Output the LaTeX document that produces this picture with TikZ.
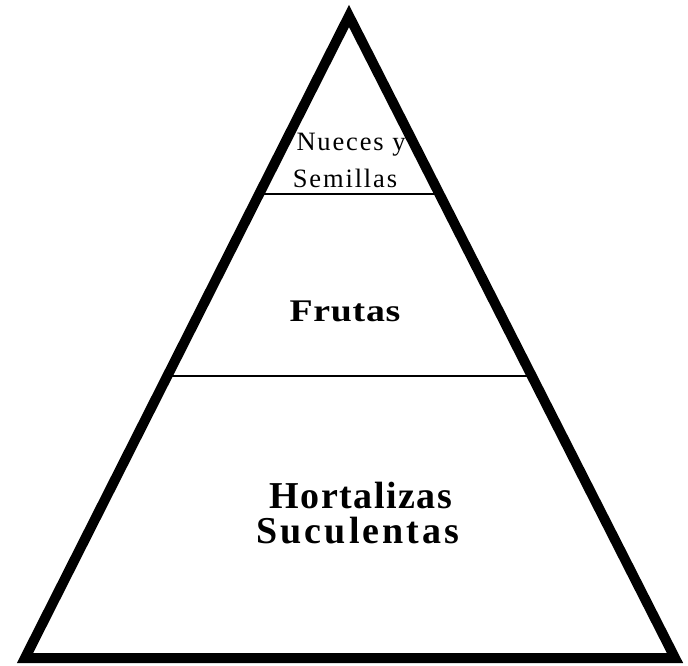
\documentclass[tikz,border=0pt]{standalone}
\usepackage{fontspec}
\setmainfont{Liberation Serif}
\newfontfamily\smallspaced[LetterSpace=7]{Liberation Serif}
\newfontfamily\midspaced[LetterSpace=2]{Liberation Serif}
\newfontfamily\bigspaced[LetterSpace=4]{Liberation Serif}
\newfontfamily\widespaced[LetterSpace=8]{Liberation Serif}
\usetikzlibrary{calc}
\begin{document}
\begin{tikzpicture}[x=1pt,y=1pt,
  outline/.style={line width=10pt, line join=miter, miter limit=10},
  divider/.style={line width=1.6pt},
  lbl/.style={inner sep=0pt, anchor=base},
  toptext/.style={lbl, font=\fontsize{26.5}{32}\smallspaced},
  midtext/.style={lbl, font=\fontsize{31.5}{36}\bfseries\midspaced}]
\useasboundingbox (0,0) rectangle (688,665);
\fill[white] (0,0) rectangle (688,665);
\coordinate (A) at (349,649);
\coordinate (L) at (25,7);
\coordinate (R) at (675,7);
\coordinate (l1) at ($(A)!0.277!(L)$);
\coordinate (r1) at ($(A)!0.277!(R)$);
\coordinate (l2) at ($(A)!0.561!(L)$);
\coordinate (r2) at ($(A)!0.561!(R)$);
\draw[divider] (l1) -- (r1);
\draw[divider] (l2) -- (r2);
\draw[outline] (A) -- (L) -- (R) -- cycle;
\node[toptext] (n1a) at (351,514) {Nueces y};
\node[toptext] (n1b) at (345,477) {Semillas};
\node[midtext, xscale=1.2, transform shape] (n2) at (345,343) {Frutas};
\node[lbl, font=\fontsize{38}{44}\bfseries\bigspaced] (n3a) at (361,157) {Hortalizas};
\node[lbl, font=\fontsize{38}{44}\bfseries\widespaced] (n3b) at (358,122) {Suculentas};
\end{tikzpicture}
\end{document}
